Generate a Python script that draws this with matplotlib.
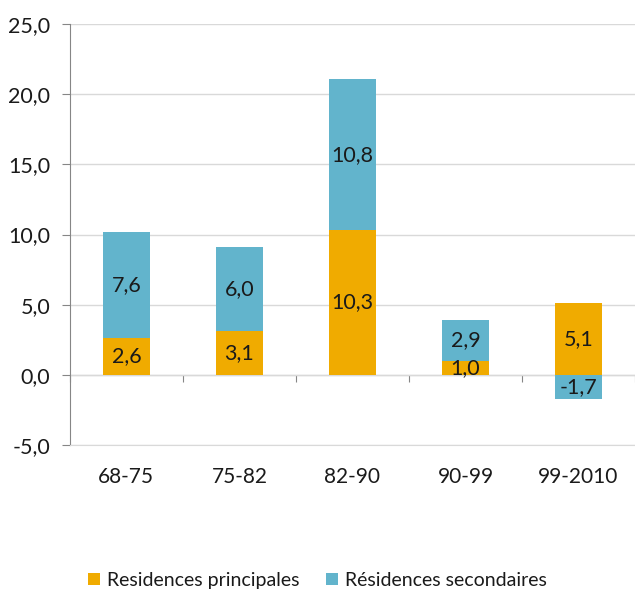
import matplotlib.pyplot as plt
import numpy as np
from matplotlib.ticker import FuncFormatter

plt.rcParams['font.family'] = ['Lato', 'DejaVu Sans']

periods = ['68-75', '75-82', '82-90', '90-99', '99-2010']
principales = [2.6, 3.1, 10.3, 1.0, 5.1]
secondaires = [7.6, 6.0, 10.8, 2.9, -1.7]

c_prin = '#F0AB00'
c_sec = '#62B4CC'

fig = plt.figure(figsize=(6.35, 5.9), dpi=100)
ax = fig.add_axes([0.110, 0.246, 0.890, 0.713])

x = np.arange(len(periods))
prin = np.array(principales)
sec = np.array(secondaires)
w = 0.41

# stacking: positives on positives, negatives on negatives
sec_bottom = np.where(sec >= 0, np.clip(prin, 0, None), np.clip(prin, None, 0))

ax.bar(x, prin, w, color=c_prin, label='Residences principales', zorder=2)
ax.bar(x, sec, w, bottom=sec_bottom, color=c_sec, label='Résidences secondaires', zorder=2)

def fmt(v):
    return f'{v:.1f}'.replace('.', ',')

for i in range(len(x)):
    ax.text(x[i], prin[i] / 2, fmt(prin[i]), ha='center', va='center',
            fontsize=15.5, color='#1a1a1a', zorder=3)
    ax.text(x[i], sec_bottom[i] + sec[i] / 2, fmt(sec[i]), ha='center', va='center',
            fontsize=15.5, color='#1a1a1a', zorder=3)

ax.set_xlim(-0.5, len(periods) - 0.5)
ax.set_ylim(-5, 25)
ax.set_yticks(np.arange(-5, 26, 5))
ax.yaxis.set_major_formatter(FuncFormatter(lambda v, p: fmt(v)))
ax.grid(axis='y', color='#D9D9D9', linewidth=1, zorder=0)

for s in ['top', 'right']:
    ax.spines[s].set_visible(False)
ax.spines['bottom'].set_color('#D9D9D9')
ax.spines['left'].set_color('#868686')
ax.tick_params(axis='y', direction='out', length=6, color='#868686',
               labelsize=15.5, labelcolor='#1a1a1a', pad=8)

ax.set_xticks(x, periods)
ax.tick_params(axis='x', length=0, labelsize=15, labelcolor='#1a1a1a', pad=16)

# category axis line at zero with boundary ticks
zax = ax.secondary_xaxis(0, transform=ax.transData)
zax.set_xticks(np.arange(len(periods) + 1) - 0.5)
zax.set_xticklabels([])
zax.spines['bottom'].set_color('#868686')
zax.tick_params(direction='out', length=5, color='#868686')

fig.legend(loc='center', bbox_to_anchor=(0.5, 0.016), ncol=2, frameon=False,
           fontsize=14, handlelength=0.6, handleheight=0.6, handletextpad=0.35,
           columnspacing=1.4, labelcolor='#1a1a1a')

fig.savefig('out.png', dpi=100)
